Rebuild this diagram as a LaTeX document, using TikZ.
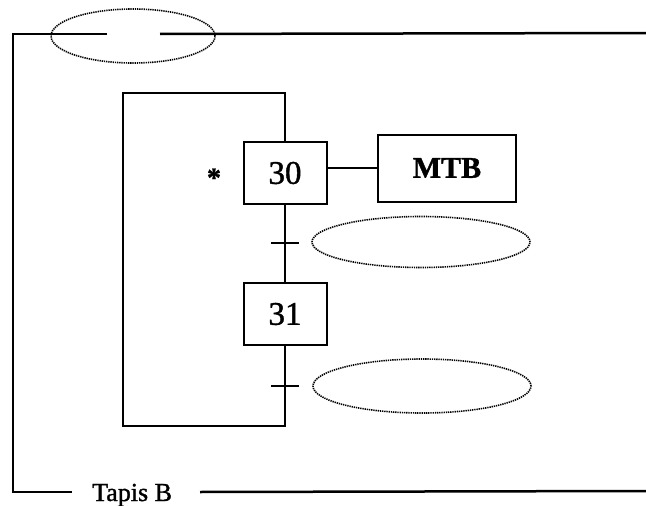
\documentclass[tikz,border=0pt]{standalone}
\usepackage{fontspec}
\setmainfont{Liberation Serif}
\newfontfamily\scanfont{Liberation Serif}[FakeBold=1.2]
\newfontfamily\scanbold{Liberation Serif Bold}[FakeBold=1.2]
\usetikzlibrary{shapes.geometric}
\begin{document}
\begin{tikzpicture}[x=1pt,y=-1pt,
  stepbox/.style={draw,line width=2pt,minimum width=83pt,minimum height=62pt,inner sep=0pt,font=\scanfont\fontsize{33}{36}\selectfont},
  actbox/.style={draw,line width=2pt,minimum width=138pt,minimum height=67pt,inner sep=0pt,font=\scanbold\fontsize{30}{34}\selectfont},
  recept/.style={draw,ellipse,line width=1.6pt,dash pattern=on 1.3pt off 0.9pt,inner sep=0pt},
  link/.style={line width=2pt},
  frameline/.style={line width=2.5pt}]
\useasboundingbox (0,0) rectangle (646,506);
% steps and action
\node[stepbox] (s30) at (285,173) {30};
\node[stepbox] (s31) at (285,314) {31};
\node[actbox] (mtb) at (447,168) {MTB};
\node[font=\scanbold\fontsize{28}{30}\selectfont, anchor=base, inner sep=0pt] (star) at (214,187) {*};
% transitions
\coordinate (t1) at (285,243);
\coordinate (t2) at (285,386);
% loop corners
\coordinate (ltop) at (123,93);
\coordinate (rtop) at (285,93);
\coordinate (lbot) at (123,426);
\coordinate (rbot) at (285,426);
\draw[link] (s30.south) -- (s31.north);
\draw[link] (s31.south) -- (rbot) -- (lbot) -- (ltop) -- (rtop) -- (s30.north);
\draw[line width=1.5pt] (s30.east |- mtb.west) -- (mtb.west);
\draw[link] ([xshift=-14pt]t1) -- ([xshift=14pt]t1);
\draw[link] ([xshift=-14pt]t2) -- ([xshift=14pt]t2);
% receptivity ellipses
\node[recept, minimum width=164pt, minimum height=54pt] (e0) at (133,36) {};
\node[recept, minimum width=218pt, minimum height=51pt] (e1) at (421,242) {};
\node[recept, minimum width=218pt, minimum height=54pt] (e2) at (422,386) {};
% outer frame
\coordinate (tl) at (13,34);
\coordinate (gapL) at (107,34);
\coordinate (gapR) at (160,34);
\coordinate (tr) at (646,33);
\coordinate (bl) at (13,492);
\coordinate (bA) at (72,492);
\coordinate (bB) at (200,492);
\coordinate (br) at (646,491);
\node[font=\scanfont\fontsize{26}{30}\selectfont, anchor=base west, inner sep=0pt] (tapis) at (92,501) {Tapis B};
\draw[frameline] (gapL) -- (tl) -- (bl) -- (bA);
\draw[frameline] (gapR) -- (tr);
\draw[frameline] (bB) -- (br);
\end{tikzpicture}
\end{document}
